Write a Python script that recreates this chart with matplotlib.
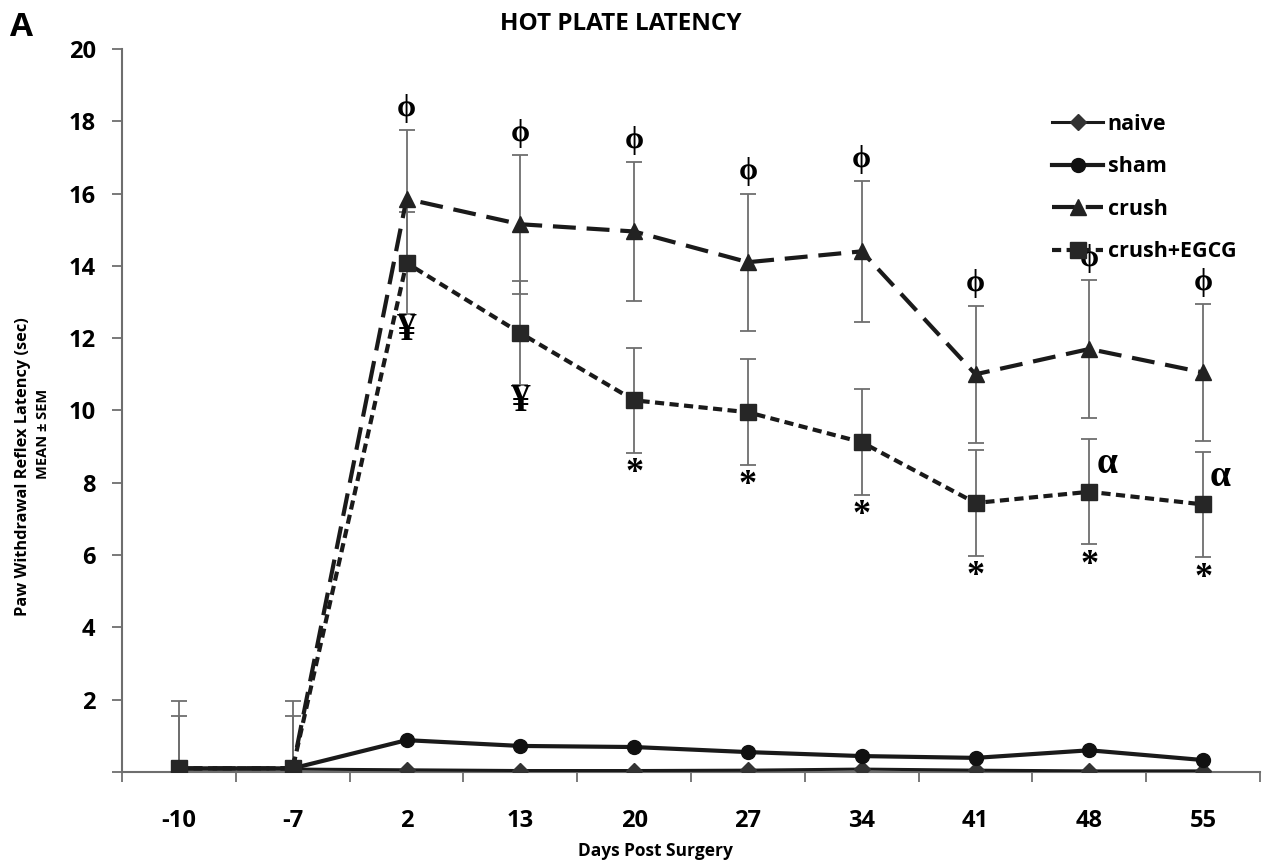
import numpy as np
import matplotlib
matplotlib.use("Agg")
import matplotlib.pyplot as plt

# data
days = ["-10", "-7", "2", "13", "20", "27", "34", "41", "48", "55"]
naive = [0.08, 0.08, 0.06, 0.04, 0.04, 0.05, 0.08, 0.05, 0.03, 0.03]
sham = [0.1, 0.1, 0.88, 0.72, 0.69, 0.55, 0.44, 0.39, 0.6, 0.33]
crush = [0.1, 0.1, 15.85, 15.15, 14.95, 14.1, 14.4, 11.0, 11.7, 11.05]
crush_sem = [1.85, 1.85, 1.9, 1.92, 1.92, 1.9, 1.95, 1.9, 1.9, 1.9]
egcg = [0.1, 0.1, 14.08, 12.14, 10.28, 9.95, 9.12, 7.44, 7.75, 7.4]
egcg_sem = [1.45, 1.45, 1.4, 1.44, 1.45, 1.46, 1.46, 1.46, 1.45, 1.46]

phi_at = [2, 3, 4, 5, 6, 7, 8, 9]
yen_at = [2, 3]
star_at = [4, 5, 6, 7, 8, 9]
alpha_at = [8, 9]

plt.rcParams['font.family'] = ['Open Sans', 'DejaVu Sans']
plt.rcParams['font.weight'] = 'bold'

fig = plt.figure(figsize=(12.67, 8.67), dpi=100)
ax = fig.add_axes([0.0963, 0.1096, 0.8982, 0.834])

x = np.arange(len(days))
ink = '#1a1a1a'
grey = '#6e6e6e'

ax.errorbar(x, crush, yerr=crush_sem, fmt='none', ecolor=grey, elinewidth=1.3,
            capsize=6, capthick=1.3, zorder=2)
ax.errorbar(x, egcg, yerr=egcg_sem, fmt='none', ecolor=grey, elinewidth=1.3,
            capsize=6, capthick=1.3, zorder=2)

ax.plot(x, naive, color=ink, lw=2.2, marker='D', ms=8, mfc='#333333', mec='#333333',
        label='naive', zorder=3)
ax.plot(x, sham, color=ink, lw=3, marker='o', ms=10, mfc='#111111', mec='#111111',
        label='sham', zorder=3)
ax.plot(x, crush, color=ink, lw=3, ls=(0, (5.5, 2.6)), marker='^', ms=12,
        mfc='#222222', mec='#222222', label='crush', zorder=4)
ax.plot(x, egcg, color=ink, lw=3, ls=(0, (2.2, 1.3)), marker='s', ms=12,
        mfc='#262626', mec='#262626', label='crush+EGCG', zorder=5)

serif = ['Liberation Serif', 'DejaVu Serif']
for i in phi_at:
    ax.text(x[i], crush[i] + crush_sem[i] + 0.2, 'ϕ', ha='center', va='bottom',
            fontsize=22, family=serif, fontweight='bold')
for i in yen_at:
    ax.text(x[i], egcg[i] - egcg_sem[i] + 0.05, '¥', ha='center', va='top',
            fontsize=28, family=serif, fontweight='bold')
for i in star_at:
    ax.text(x[i], egcg[i] - egcg_sem[i] - 0.12, '*', ha='center', va='top',
            fontsize=26, family=serif, fontweight='bold')
for i in alpha_at:
    ax.text(x[i] + 0.06, egcg[i] + 0.3, 'α', ha='left', va='bottom',
            fontsize=27, family=serif, fontweight='bold')

ax.set_xlim(-0.5, 9.5)
ax.set_ylim(0, 20)
ax.set_xticks(x)
ax.set_xticklabels(days, fontweight='bold')
ax.set_xticks(np.arange(-0.5, 10, 1), minor=True)
ax.tick_params(axis='x', which='major', length=0, pad=27, labelsize=17)
ax.tick_params(axis='x', which='minor', length=7, width=1.3, color=grey, direction='out')
ax.set_yticks(np.arange(0, 21, 2))
ax.set_yticklabels([''] + [str(v) for v in range(2, 21, 2)], fontweight='bold')
ax.tick_params(axis='y', length=7, width=1.3, color=grey, labelsize=17, pad=12)

for s in ['top', 'right']:
    ax.spines[s].set_visible(False)
for s in ['left', 'bottom']:
    ax.spines[s].set_color(grey)
    ax.spines[s].set_linewidth(1.5)

fig.text(0.517, 0.018, 'Days Post Surgery', ha='center', va='center',
         fontsize=12.5, fontweight='bold')
fig.text(0.018, 0.462, 'Paw Withdrawal Reflex Latency (sec)', rotation=90,
         ha='center', va='center', fontsize=11.8, fontweight='bold')
fig.text(0.034, 0.5, 'MEAN ± SEM', rotation=90, ha='center', va='center',
         fontsize=10.5, fontweight='bold')
fig.text(0.49, 0.972, 'HOT PLATE LATENCY', ha='center', va='center',
         fontsize=17.5, fontweight='bold')
fig.text(0.008, 0.968, 'A', ha='left', va='center', fontsize=24, fontweight='bold')

leg = ax.legend(loc='upper left', bbox_to_anchor=(0.8, 0.937), frameon=False,
                prop={'size': 15.5, 'weight': 'bold'}, handlelength=2.4,
                handletextpad=0.2, labelspacing=1.0)

fig.savefig('out.png', dpi=100)
